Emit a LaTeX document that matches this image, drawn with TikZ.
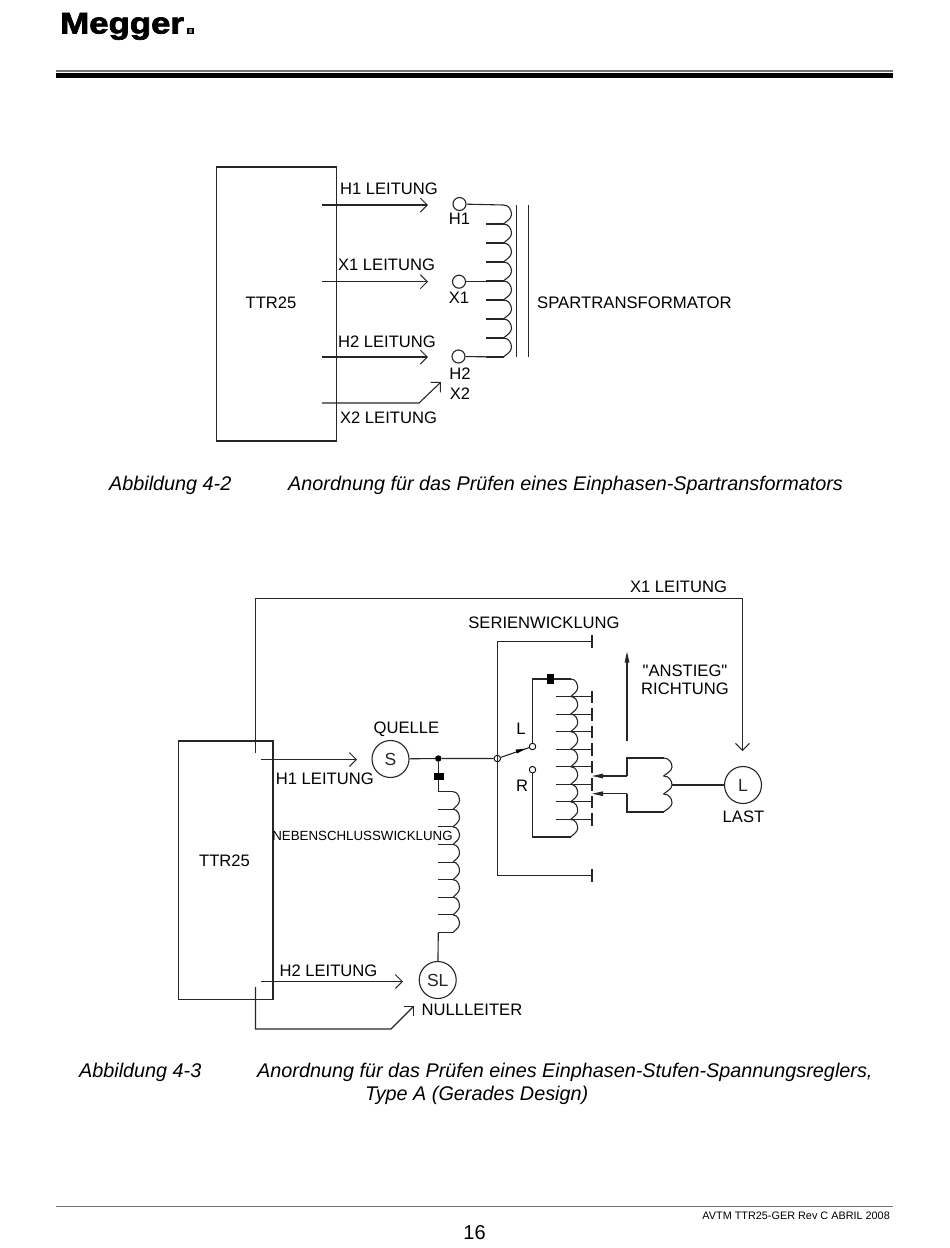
\documentclass[tikz,border=0pt]{standalone}
\usepackage{fontspec}
\setmainfont{Liberation Sans}
\usetikzlibrary{arrows.meta}
\tikzset{
  wire/.style={line width=1.1pt,black!85},
  openarrow/.style={wire,-{Straight Barb[length=7pt,width=14pt,line width=1pt]}},
  solidtip/.style={wire,-{Triangle[length=11pt,width=4.5pt]}},
  lab/.style={inner sep=0pt,font=\fontsize{16.6}{18}\selectfont},
  captxt/.style={inner sep=0pt,anchor=west,font=\fontsize{19.8}{22}\selectfont\itshape},
  terminal/.style={circle,draw,wire,fill=white,minimum size=13pt,inner sep=0pt},
  source/.style={circle,draw,wire,fill=white,minimum size=37pt,inner sep=0pt,font=\fontsize{17.5}{18}\selectfont},
  smallterm/.style={circle,draw,line width=0.9pt,fill=white,minimum size=6.5pt,inner sep=0pt},
  markbox/.style={fill=black,inner sep=0pt},
  framebox/.style={draw,wire,inner sep=0pt,outer sep=0pt,anchor=north west}
}
% stub x, cusp x, bulge x, first y, bump height, bumps
\newcommand{\coilv}[6]{%
  \foreach \i in {1,...,#6}{%
    \pgfmathsetmacro{\ya}{#4+(\i-1)*#5}
    \pgfmathsetmacro{\yb}{#4+\i*#5}
    \pgfmathsetmacro{\ym}{#4+(\i-0.5)*#5}
    \pgfmathsetmacro{\xc}{#2+0.7*(#3-#2)}
    \pgfmathsetmacro{\xd}{#2+0.3*(#3-#2)}
    \pgfmathsetmacro{\ca}{\ym-0.22*#5}
    \pgfmathsetmacro{\cb}{\ym+0.22*#5}
    \draw[wire] (#2,\ya) .. controls (\xc,\ya) and (#3,\ca) .. (#3,\ym) .. controls (#3,\cb) and (\xd,\yb-0.12*#5) .. (#2,\yb);
    \draw[wire] (#1,\yb) -- (#2,\yb);
  }%
}
\begin{document}
\begin{tikzpicture}[x=1pt,y=-1pt]
\useasboundingbox (0,0) rectangle (950,1248);
% header
\node[inner sep=0pt,anchor=base west,xscale=1.16] (logo) at (60,33.5) {\fontsize{30}{30}\selectfont\bfseries\addfontfeature{FakeBold=2.2}Megger};
\node[draw,line width=1.3pt,fill=black!45,minimum size=5pt,inner sep=0pt] (reg) at (190.5,31) {};
\fill[black!55] (56,70) rectangle (893,71.7);
\fill[black] (56,73) rectangle (893,77.5);
% footer
\fill[black!55] (56,1206) rectangle (893,1207);
\node[inner sep=0pt,anchor=east,font=\fontsize{10.85}{14}\selectfont] (rev) at (890,1215.5) {AVTM TTR25-GER Rev C ABRIL 2008};
\node[inner sep=0pt,font=\fontsize{20}{22}\selectfont] (page) at (474.5,1233) {16};
%
% Figure 4-2
\node[framebox,minimum width=119.7pt,minimum height=274pt] (ttra) at (216.5,167) {};
\node[lab] (ttratxt) at (271,302.7) {TTR25};
\coordinate (a1s) at (322,205); \coordinate (a1e) at (428,205);
\coordinate (a2s) at (322,281.7); \coordinate (a2e) at (428,281.7);
\coordinate (a3s) at (322,357); \coordinate (a3e) at (428,357);
\coordinate (a4s) at (322,403); \coordinate (a4m) at (419,403); \coordinate (a4e) at (441,382);
\draw[openarrow] (a1s) -- (a1e);
\draw[openarrow] (a2s) -- (a2e);
\draw[openarrow] (a3s) -- (a3e);
\draw[openarrow] (a4s) -- (a4m) -- (a4e);
\node[lab] at (389,188.5) {H1 LEITUNG};
\node[lab] at (386.5,264.5) {X1 LEITUNG};
\node[lab] at (387,341.5) {H2 LEITUNG};
\node[lab] at (388.5,418) {X2 LEITUNG};
\coilv{486}{503.5}{511.5}{205}{19}{8}
\node[terminal] (th1) at (459.5,204) {};
\node[terminal] (tx1) at (459,281.7) {};
\node[terminal] (th2) at (458.5,356.5) {};
\draw[wire] (th1) -- (503.5,205);
\draw[wire] (tx1) -- (503.5,281.7);
\draw[wire] (th2) -- (503.5,357);
\node[lab] at (459.5,219) {H1};
\node[lab] at (459,298) {X1};
\node[lab] at (460,373.5) {H2};
\node[lab] at (460,394) {X2};
\coordinate (c1a) at (516.5,205); \coordinate (c1b) at (516.5,357);
\coordinate (c2a) at (528.5,205); \coordinate (c2b) at (528.5,357);
\draw[wire] (c1a) -- (c1b);
\draw[wire] (c2a) -- (c2b);
\node[lab,anchor=west,font=\fontsize{16.7}{18}\selectfont] at (537,302.8) {SPARTRANSFORMATOR};
\node[captxt] at (109,485.3) {Abbildung 4-2};
\node[captxt] at (288,485.3) {Anordnung für das Prüfen eines Einphasen-Spartransformators};
%
% Figure 4-3
\node[framebox,minimum width=94.7pt,minimum height=258.3pt] (ttrb) at (178.3,741) {};
\node[lab] at (224.5,860.8) {TTR25};
\coordinate (x1s) at (255.5,752.5); \coordinate (x1a) at (255.5,598.5); \coordinate (x1b) at (742.5,598.5); \coordinate (x1e) at (742.5,751);
\draw[openarrow] (x1s) -- (x1a) -- (x1b) -- (x1e);
\node[lab] at (678.5,587) {X1 LEITUNG};
\coordinate (nulls) at (255.5,987); \coordinate (nulla) at (255.5,1029); \coordinate (nullb) at (391,1029); \coordinate (nulle) at (414,1006);
\draw[openarrow] (nulls) -- (nulla) -- (nullb) -- (nulle);
\node[source] (s) at (390.5,759) {S};
\node[source] (sl) at (437.7,980) {SL};
\node[source] (l) at (743,785) {L};
\coordinate (h1s) at (261,759.5); \coordinate (h1e) at (357,759.5);
\coordinate (h2s) at (261,981.5); \coordinate (h2e) at (403,981.5);
\draw[openarrow] (h1s) -- (h1e);
\draw[openarrow] (h2s) -- (h2e);
\node[lab] at (324.8,778.5) {H1 LEITUNG};
\node[lab] at (328.5,971) {H2 LEITUNG};
\node[lab] at (406.5,729.3) {QUELLE};
\node[lab] at (472,1009.5) {NULLLEITER};
\node[lab] at (743.5,817) {LAST};
\node[lab] at (544,622.5) {SERIENWICKLUNG};
\node[lab,align=center] at (685,679.5) {\addfontfeature{Ligatures=TeXOff}"ANSTIEG"\\RICHTUNG};
\node[lab] at (521,729) {L};
\node[lab] at (522,786) {R};
% shunt winding
\node[circle,fill=black,inner sep=0pt,minimum size=6.5pt] (jd) at (438.3,758.5) {};
\node[smallterm] (jo) at (497.3,758.5) {};
\draw[wire] (s) -- (jd) -- (jo);
\coordinate (sc) at (438.3,791.7);
\draw[wire] (jd) -- (sc) -- (453,791.7);
\node[markbox,minimum width=10pt,minimum height=7pt] (sq1) at (438.8,776.5) {};
\coilv{438.3}{453}{459.5}{791.7}{17.6}{8}
\draw[wire] (438.3,932.5) -- (sl);
\node[inner sep=0pt,font=\fontsize{13.3}{16}\selectfont] at (362.5,835.5) {NEBENSCHLUSSWICKLUNG};
% series winding outer frame
\coordinate (ft) at (592,641.7); \coordinate (fb) at (592,875.7);
\draw[wire] (ft) -- (497.3,641.7) -- (497.3,875.7) -- (fb);
\draw[wire] (592,635) -- (592,648);
\draw[wire] (592,869) -- (592,882);
% switch
\node[smallterm] (tl) at (532.5,746.5) {};
\node[smallterm] (tr) at (532.5,769.7) {};
\draw[wire] (jo) -- (tl);
\fill[black] (525.5,748.7) -- (515.5,749.6) -- (517,753.5) -- cycle;
% series coil
\draw[wire] (tl) -- (532.5,679) -- (570.7,679);
\draw[wire] (tr) -- (532.5,837) -- (570.7,837);
\node[markbox,minimum width=7pt,minimum height=10pt] (sq2) at (550.5,678.5) {};
\coilv{570.7}{570.7}{577.7}{679}{17.55}{9}
\foreach \k in {1,...,8}{
  \pgfmathsetmacro{\yb}{679+\k*17.55}
  \draw[wire] (556,\yb) -- (592,\yb);
  \draw[wire] (592,\yb-6) -- (592,\yb+6.5);
}
% direction arrow
\coordinate (ups) at (627,741); \coordinate (upe) at (627,651.5);
\draw[solidtip] (ups) -- (upe);
% preventive coil
\coordinate (pa) at (627,758); \coordinate (pb) at (627,812);
\coordinate (t1) at (592,776); \coordinate (t2) at (592,793.7);
\draw[solidtip] (627,776) -- (t1);
\draw[solidtip] (627,793.7) -- (t2);
\draw[wire] (627,776) -- (pa) -- (663.5,758);
\draw[wire] (627,793.7) -- (pb) -- (663.5,812);
\coilv{663.5}{663.5}{672}{758}{18}{3}
\draw[wire] (672,785) -- (l);
\node[captxt] at (79,1072.3) {Abbildung 4-3};
\node[captxt] at (257,1072.3) {Anordnung für das Prüfen eines Einphasen-Stufen-Spannungsreglers,};
\node[captxt] at (365,1095.3) {Type A (Gerades Design)};
\end{tikzpicture}
\end{document}
